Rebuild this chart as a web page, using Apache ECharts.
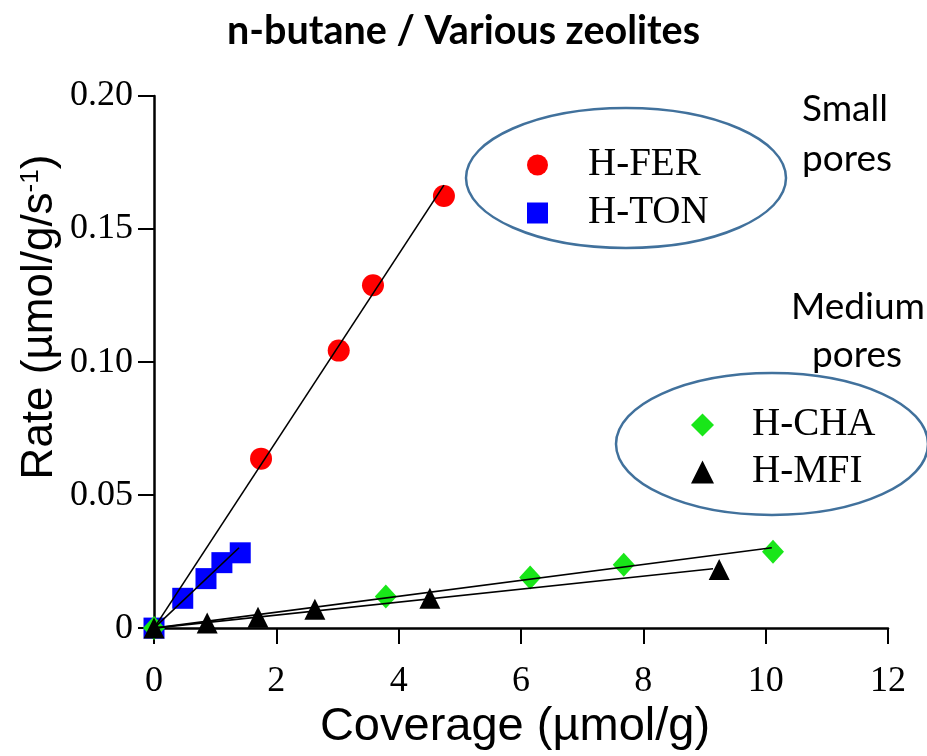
<!DOCTYPE html>
<html>
<head>
<meta charset="utf-8">
<script src="https://cdn.jsdelivr.net/npm/echarts@6/dist/echarts.min.js"></script>
<style>
html,body{margin:0;padding:0;background:#fff;}
#c{width:927px;height:756px;}
</style>
</head>
<body>
<div id="c"></div>
<script>
// ---- Data ----
var titleText = 'n-butane / Various zeolites';
var xTicks = [0, 2, 4, 6, 8, 10, 12];
var yTicks = [0, 0.05, 0.10, 0.15, 0.20];

var ferPoints = [[1.75, 0.0637], [3.02, 0.1043], [3.58, 0.1289], [4.74, 0.1624]];
var tonPoints = [[0, 0], [0.47, 0.0112], [0.85, 0.0186], [1.11, 0.0246], [1.41, 0.0283]];
var chaPoints = [[0, 0], [3.79, 0.0119], [6.15, 0.0190], [7.68, 0.0238], [10.12, 0.0287]];
var mfiPoints = [[0, 0], [0.87, 0.0019], [1.70, 0.0041], [2.63, 0.0071], [4.51, 0.0112], [9.24, 0.0220]];

var ferFit = [[0, 0], [4.74, 0.1665]];
var tonFit = [[0, 0], [1.39, 0.0302]];
var chaFit = [[0, 0], [10.10, 0.0302]];
var mfiFit = [[0, 0], [9.14, 0.0223]];

var groupSmall = ['H-FER', 'H-TON'];
var groupMedium = ['H-CHA', 'H-MFI'];

// ---- Chart ----
var chart = echarts.init(document.getElementById('c'), null, {renderer: 'canvas'});
var serif = '"Liberation Serif", "Times New Roman", serif';
var sans = '"Liberation Sans", Arial, sans-serif';
var cal = 'Lato, Carlito, Calibri, sans-serif';

function fitSeries(data) {
  return {type: 'line', data: data, symbol: 'none', silent: true, z: 5,
    lineStyle: {color: '#000', width: 1.6}, animation: false};
}

var legendText = {fontFamily: serif, fontSize: 39, color: '#000', lineHeight: 40, padding: [0, 0, 0, 35]};

var option = {
  animation: false,
  backgroundColor: '#fff',
  title: {
    text: titleText, left: 'center', top: 6,
    textStyle: {fontFamily: cal, fontWeight: 'bold', fontSize: 39.5, color: '#000'}
  },
  grid: {left: 154, right: 39, top: 96, bottom: 123, containLabel: false},
  legend: [
    {data: groupSmall, orient: 'vertical', left: 522, top: 140, itemWidth: 21, itemHeight: 21,
     itemGap: 8, textStyle: legendText, selectedMode: false},
    {data: groupMedium, orient: 'vertical', left: 686, top: 400, itemWidth: 23, itemHeight: 23,
     itemGap: 7, textStyle: {fontFamily: serif, fontSize: 39, color: '#000', lineHeight: 40, padding: [0, 0, 0, 33]},
     selectedMode: false}
  ],
  xAxis: {
    type: 'value', min: xTicks[0], max: xTicks[xTicks.length - 1], interval: 2,
    name: 'Coverage (µmol/g)', nameLocation: 'middle', nameGap: 72,
    nameTextStyle: {fontFamily: sans, fontSize: 47, color: '#000', padding: [0, 12, 0, 0]},
    axisLine: {show: true, lineStyle: {color: '#000', width: 2.5}},
    axisTick: {show: true, inside: false, length: 16, lineStyle: {color: '#000', width: 2}},
    axisLabel: {margin: 35, fontFamily: serif, fontSize: 36, color: '#000'},
    splitLine: {show: false}
  },
  yAxis: {
    type: 'value', min: yTicks[0], max: yTicks[yTicks.length - 1], interval: 0.05,
    axisLine: {show: true, lineStyle: {color: '#000', width: 2.5}},
    axisTick: {show: true, inside: false, length: 16, lineStyle: {color: '#000', width: 2}},
    axisLabel: {margin: 21, fontFamily: serif, fontSize: 36, color: '#000',
      formatter: function (v) { return v === 0 ? '0' : v.toFixed(2); }},
    splitLine: {show: false}
  },
  series: [
    {name: 'H-FER', type: 'scatter', data: ferPoints, symbol: 'circle', symbolSize: 22, z: 2,
     itemStyle: {color: '#ff0000', opacity: 1}},
    {name: 'H-TON', type: 'scatter', data: tonPoints, symbol: 'rect', symbolSize: 21, z: 2,
     itemStyle: {color: '#0000ff', opacity: 1}},
    {name: 'H-CHA', type: 'scatter', data: chaPoints, symbol: 'diamond', symbolSize: [22, 24], z: 3,
     itemStyle: {color: '#19e619', opacity: 1}},
    {name: 'H-MFI', type: 'scatter', data: mfiPoints, symbol: 'triangle', symbolSize: [21, 21], z: 6,
     itemStyle: {color: '#000000', opacity: 1}},
    fitSeries(ferFit),
    fitSeries(tonFit),
    fitSeries(chaFit),
    fitSeries(mfiFit)
  ],
  graphic: [
    {type: 'ellipse', shape: {cx: 626, cy: 178, rx: 160, ry: 70}, z: 1,
     style: {fill: 'none', stroke: '#41719c', lineWidth: 2.5}},
    {type: 'ellipse', shape: {cx: 772, cy: 444, rx: 156, ry: 71}, z: 1,
     style: {fill: 'none', stroke: '#41719c', lineWidth: 2.5}},
    {type: 'text', x: 40, y: 317, rotation: Math.PI / 2, z: 2,
     style: {
       text: '{a|Rate (µmol/g/s}{s|-1}{a|)}', align: 'center', verticalAlign: 'middle',
       rich: {
         a: {fontFamily: sans, fontSize: 44, fill: '#000', color: '#000'},
         s: {fontFamily: sans, fontSize: 26, fill: '#000', color: '#000', padding: [0, 0, 19, 0]}
       }
     }},
    {type: 'text', left: 802, top: 84, z: 2,
     style: {text: 'Small\npores', font: '37px ' + cal, fill: '#000', lineHeight: 50, textAlign: 'left'}},
    {type: 'text', left: 791, top: 289, z: 2,
     style: {text: 'Medium', font: '37px ' + cal, fill: '#000'}},
    {type: 'text', left: 812, top: 337, z: 2,
     style: {text: 'pores', font: '37px ' + cal, fill: '#000'}}
  ]
};
chart.setOption(option);
</script>
</body>
</html>
